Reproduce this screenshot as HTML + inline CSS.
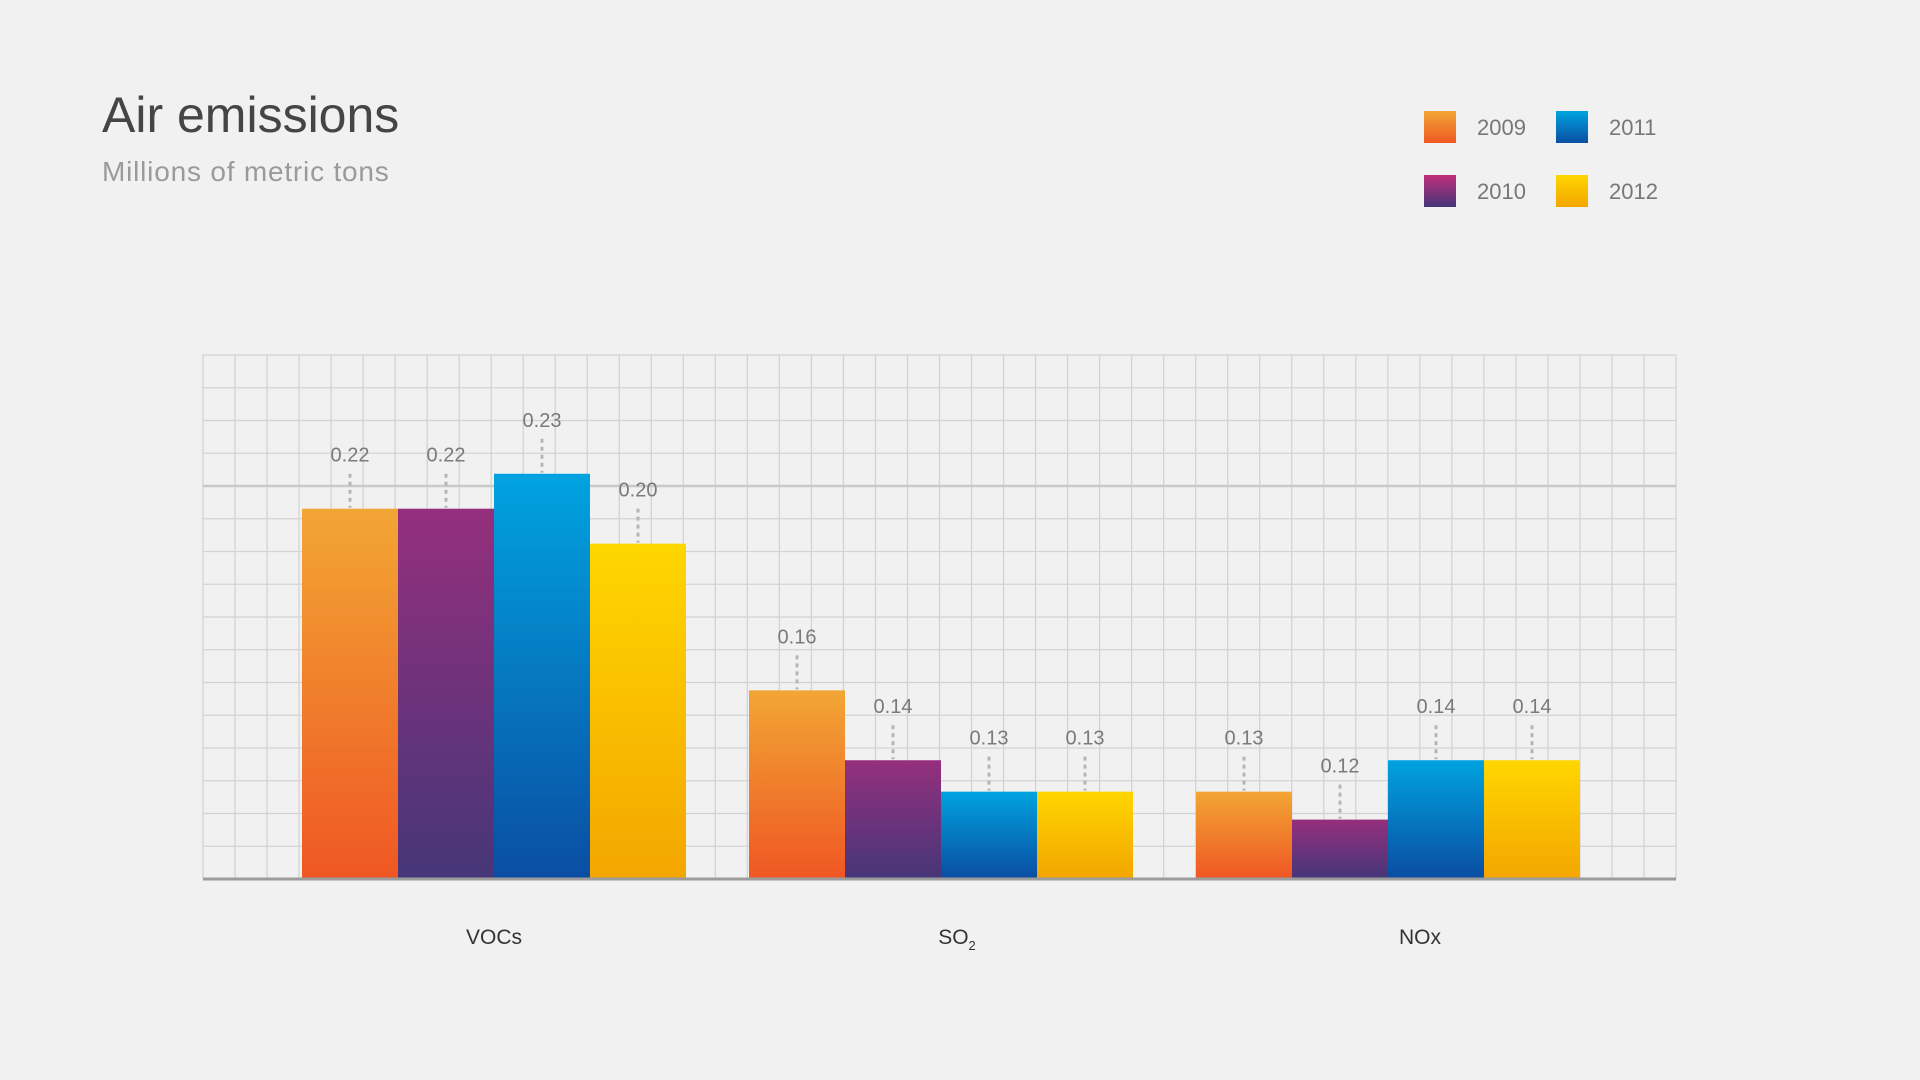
<!DOCTYPE html>
<html><head><meta charset="utf-8"><style>
body{margin:0;width:1920px;height:1080px;background:#f1f1f1;font-family:"Liberation Sans",sans-serif;overflow:hidden}
svg{position:absolute;left:0;top:0}
</style></head><body>
<svg width="1920" height="1080">
<defs>
<linearGradient id="g0" x1="0" y1="0" x2="0" y2="1"><stop offset="0" stop-color="#f2a634"/><stop offset="1" stop-color="#ef5724"/></linearGradient>
<linearGradient id="g1" x1="0" y1="0" x2="0" y2="1"><stop offset="0" stop-color="#952f7d"/><stop offset="1" stop-color="#463679"/></linearGradient>
<linearGradient id="g2" x1="0" y1="0" x2="0" y2="1"><stop offset="0" stop-color="#00a3e0"/><stop offset="1" stop-color="#0a4ea2"/></linearGradient>
<linearGradient id="g3" x1="0" y1="0" x2="0" y2="1"><stop offset="0" stop-color="#ffd600"/><stop offset="1" stop-color="#f3a600"/></linearGradient>
<linearGradient id="l1" x1="0" y1="0" x2="0" y2="1"><stop offset="0" stop-color="#c22e7c"/><stop offset="1" stop-color="#443679"/></linearGradient>
</defs>
<text x="102" y="132" font-size="50" fill="#454545">Air emissions</text>
<text x="102" y="181" font-size="28" letter-spacing="0.8" fill="#9a9a9a">Millions of metric tons</text>
<g id="grid"></g>
<g id="bars"></g>
<g id="legend"></g>
</svg>
<script>
const categories = ["VOCs", "SO2", "NOx"];
const seriesNames = ["2009", "2010", "2011", "2012"];
const values2009 = [0.206, 0.154, 0.125];
const values2010 = [0.206, 0.134, 0.117];
const values2011 = [0.216, 0.125, 0.134];
const values2012 = [0.196, 0.125, 0.134];
const labels2009 = ["0.22", "0.16", "0.13"];
const labels2010 = ["0.22", "0.14", "0.12"];
const labels2011 = ["0.23", "0.13", "0.14"];
const labels2012 = ["0.20", "0.13", "0.14"];

const NS = "http://www.w3.org/2000/svg";
const PL = 203, PR = 1676, PT = 355, PB = 879;
const yMin = 0.1, yMax = 0.25;
function yScale(v){ return PB - (v - yMin) / (yMax - yMin) * (PB - PT); }
const groupCenters0 = 494, groupStep = 447, barW = 96;
const labelCenter0 = 494, labelStep = 463;
function xBar(ci, si){ return groupCenters0 + ci * groupStep - 2 * barW + si * barW; }
function mk(tag, attrs, parent){ const e = document.createElementNS(NS, tag); for (const k in attrs) e.setAttribute(k, attrs[k]); parent.appendChild(e); return e; }

const grid = document.getElementById("grid");
const cols = 46, rows = 16;
for (let i = 0; i <= cols; i++) {
  const x = PL + i * (PR - PL) / cols;
  const l = mk("line", {x1: x, x2: x, y1: PT, y2: PB, stroke: "#d3d3d3", "stroke-width": 1.3}, grid);
  
  
}
for (let j = 0; j < rows; j++) {
  const y = PT + j * (PB - PT) / rows;
  const l = mk("line", {x1: PL, x2: PR, y1: y, y2: y, stroke: j === 4 ? "#c9c9c9" : "#d3d3d3", "stroke-width": j === 4 ? 2.5 : 1.3}, grid);
  
  
}
const base = mk("line", {x1: PL, x2: PR, y1: PB, y2: PB, stroke: "#9c9c9c", "stroke-width": 3}, grid);



const allVals = [values2009, values2010, values2011, values2012];
const allLabels = [labels2009, labels2010, labels2011, labels2012];
const bars = document.getElementById("bars");
categories.forEach((c, ci) => {
  allVals.forEach((vals, si) => {
    const x = xBar(ci, si), y = yScale(vals[ci]);
    const r = mk("rect", {x: x, y: y, width: barW, height: PB - 1.5 - y, fill: "url(#g" + si + ")"}, bars);
    
    
    const d = mk("line", {x1: x + barW / 2, x2: x + barW / 2, y1: y - 35, y2: y - 1, stroke: "#b5b5b5", "stroke-width": 3, "stroke-dasharray": "4 4"}, bars);
    
    
    const t = mk("text", {x: x + barW / 2, y: y - 47, "text-anchor": "middle", "font-size": 20, fill: "#7a7a7a"}, bars);
    t.textContent = allLabels[si][ci];
    
    
  });
  const cx = labelCenter0 + ci * labelStep;
  const t = mk("text", {x: cx, y: 944, "text-anchor": "middle", "font-size": 21, fill: "#333"}, bars);
  if (c === "SO2") { t.textContent = "SO"; const s = mk("tspan", {"font-size": 13, dy: 6}, t); s.textContent = "2"; }
  else t.textContent = c;
  
  
});

const legend = document.getElementById("legend");
const lx = [1424, 1556], ly = [111, 175], fills = ["url(#g0)", "url(#l1)", "url(#g2)", "url(#g3)"];
seriesNames.forEach((n, i) => {
  const col = Math.floor(i / 2), row = i % 2;
  const r = mk("rect", {x: lx[col], y: ly[row], width: 32, height: 32, fill: fills[i]}, legend);
  
  
  const t = mk("text", {x: lx[col] + 53, y: ly[row] + 24, "font-size": 22, fill: "#777"}, legend);
  t.textContent = n;
  
  
});
</script>
</body></html>
